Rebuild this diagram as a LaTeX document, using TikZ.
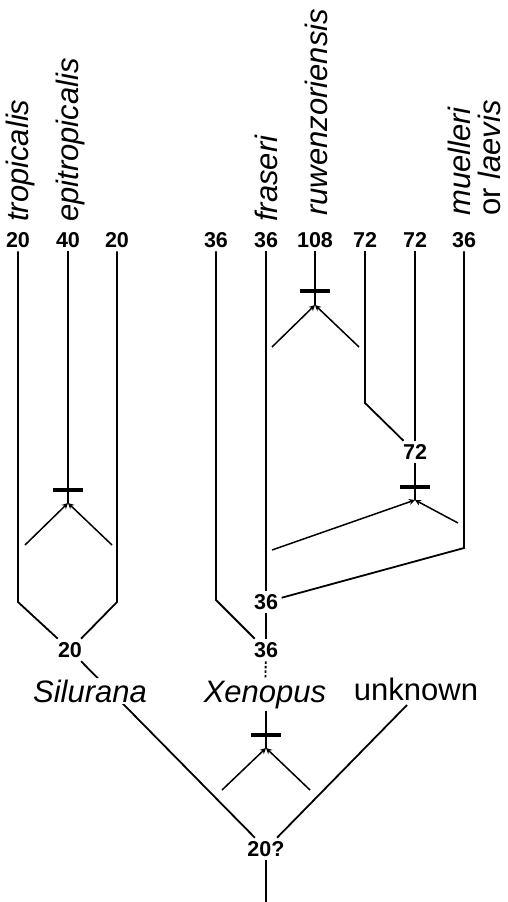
\documentclass[tikz,border=0pt]{standalone}
\usepackage{fontspec}
\setmainfont{Liberation Sans}
\usetikzlibrary{arrows.meta}
\begin{document}
\begin{tikzpicture}[x=1pt,y=-1pt,
  ln/.style={line width=1.8pt},
  leg/.style={line width=1.5pt},
  barline/.style={line width=3.8pt},
  num/.style={font=\bfseries\fontsize{21.5}{21.5}\selectfont, inner sep=3.5pt},
  taxon/.style={font=\itshape\fontsize{31}{31}\selectfont, rotate=90, anchor=base west, inner sep=0pt},
  grp/.style={font=\fontsize{31}{31}\selectfont, anchor=base, inner sep=2pt},
  tip/.style={-{Stealth[length=6pt,width=6pt]}}
]
\useasboundingbox (0,0) rectangle (508,902);

% top chromosome numbers
\foreach \n/\x/\t in {1/18/20,2/68/40,3/117/20,4/216/36,5/266/36,6/315/108,7/365/72,8/415/72,9/464/36}
  \node[num] (n\n) at (\x,240) {\t};

% species names
\node[taxon] (tro) at (28,222) {tropicalis};
\node[taxon] (epi) at (78,222) {epitropicalis};
\node[taxon] (fra) at (277,222) {fraseri};
\node[taxon] (ruw) at (327,216) {ruwenzoriensis};
\node[taxon] (mue) at (470,216) {muelleri};
\node[taxon] (lae) at (500,216) {\upshape or \itshape laevis};

% coordinates
\coordinate (b1) at (18,602);
\coordinate (b3) at (117,602);
\coordinate (b4) at (216,600);
\coordinate (b7) at (365,403);
\coordinate (c9) at (464,548);
\coordinate (aS) at (68,503);
\coordinate (aR) at (315,305);
\coordinate (aM) at (415,500);
\coordinate (aX) at (266,748);
\coordinate (lS1) at (25,545);
\coordinate (lS2) at (112,545);
\coordinate (lR1) at (272,347);
\coordinate (lR2) at (359,347);
\coordinate (lM1) at (272,550);
\coordinate (lM2) at (458,523);
\coordinate (lX1) at (222,790);
\coordinate (lX2) at (310,790);
\coordinate (uk) at (407,705);
\coordinate (bot) at (266,902);

% internal nodes
\node[num] (s20) at (70,650) {20};
\node[num] (x36a) at (266,602) {36};
\node[num] (x36b) at (266,650) {36};
\node[num] (m72) at (415,452) {72};
\node[num] (root) at (266,849) {20?};

% branches
\draw[ln] (n1) -- (b1) -- (s20);
\draw[ln] (n3) -- (b3) -- (s20);
\draw[ln] (n2) -- (aS);
\draw[ln] (n4) -- (b4) -- (x36b);
\draw[ln] (n5) -- (x36a);
\draw[ln] (x36a) -- (x36b);
\draw[ln] (n6) -- (aR);
\draw[ln] (n7) -- (b7) -- (m72);
\draw[ln] (n8) -- (m72);
\draw[ln] (m72) -- (aM);
\draw[ln] (n9) -- (c9) -- (x36a);
\draw[ln] (s20) -- (root);
\draw[ln] (root) -- (uk);
\draw[ln] (root) -- (bot);

% bars
\draw[barline] (53,490) -- (83,490);
\draw[barline] (300,291) -- (330,291);
\draw[barline] (400,487) -- (430,487);
\draw[barline] (251,735) -- (281,735);

% merging legs
\draw[leg,tip] (lS1) -- (aS);
\draw[leg,tip] (lS2) -- (aS);
\draw[leg,tip] (lR1) -- (aR);
\draw[leg,tip] (lR2) -- (aR);
\draw[leg,tip] (lM1) -- (aM);
\draw[leg,tip] (lM2) -- (aM);
\draw[leg,tip] (lX1) -- (aX);
\draw[leg,tip] (lX2) -- (aX);

% group labels
\node[grp,fill=white] (sil) at (90,702) {\itshape Silurana};
\node[grp] (xen) at (265,702) {\itshape Xenopus};
\node[grp] (unk) at (416,700) {unknown};
\draw[ln, dash pattern=on 2.5pt off 2pt] (x36b) -- (xen);
\draw[ln] (xen.south -| aX) -- (aX);
\end{tikzpicture}
\end{document}
